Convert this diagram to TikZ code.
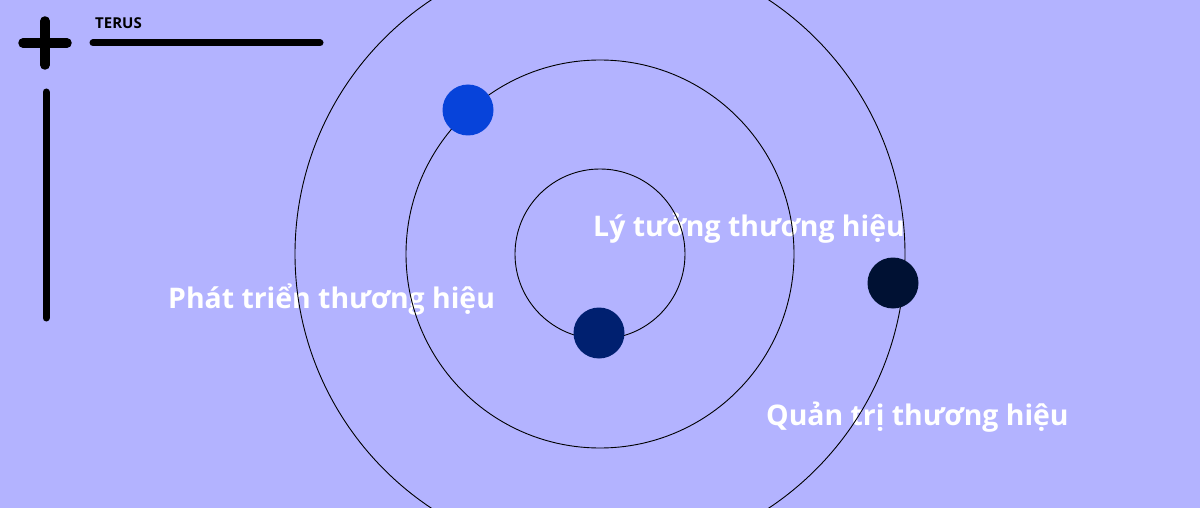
\documentclass[tikz,border=0pt]{standalone}
\usepackage{fontspec}
\setmainfont{Open Sans}
\usetikzlibrary{positioning}

\definecolor{bgviolet}{HTML}{B3B3FF}
\definecolor{dotblue}{HTML}{0743DA}
\definecolor{dotnavy}{HTML}{002070}
\definecolor{dotdark}{HTML}{001133}

\tikzset{
  orbit/.style={draw=black, line width=0.9pt},
  planet/.style={circle, fill=#1, minimum size=51pt, inner sep=0pt},
  stage/.style={text=white, font=\fontsize{28.4}{32}\selectfont\bfseries, inner sep=0pt, anchor=base west},
  logobar/.style={line width=7pt, line cap=round, black}
}

\begin{document}
\begin{tikzpicture}[x=1pt, y=-1pt]
  % canvas, pixel units from the top left
  \fill[bgviolet] (0,0) rectangle (1200,508);
  \useasboundingbox (0,0) rectangle (1200,508);

  % logo: plus, bars and name
  \coordinate (plus_c) at (45,43);
  \draw[logobar, line width=9.5pt] ([xshift=-22pt]plus_c) -- ([xshift=22pt]plus_c);
  \draw[logobar, line width=9.5pt] ([yshift=22pt]plus_c) -- ([yshift=-22pt]plus_c);
  \coordinate (bar_h1) at (93,43);
  \coordinate (bar_h2) at (320,43);
  \draw[logobar] (bar_h1) -- (bar_h2);
  \coordinate (bar_v1) at (46,92);
  \coordinate (bar_v2) at (46,318);
  \draw[logobar] (bar_v1) -- (bar_v2);
  \node[anchor=base west, inner sep=0pt, font=\fontsize{15}{16}\selectfont\bfseries] (brand) at (95,28.5) {TERUS};

  % stage labels
  \node[stage] (ideal) at (593,236) {Lý tưởng thương hiệu};
  \node[stage] (develop) at (168,308) {Phát triển thương hiệu};
  \node[stage] (manage) at (766,425) {Quản trị thương hiệu};

  % orbits, drawn over the labels
  \coordinate (core) at (600,254);
  \draw[orbit] (core) circle[radius=85];
  \draw[orbit] (core) circle[radius=194];
  \draw[orbit] (core) circle[radius=305];

  % planets on the orbits
  \node[planet=dotblue] (p_blue) at (468,110) {};
  \node[planet=dotnavy] (p_navy) at (599,333) {};
  \node[planet=dotdark] (p_dark) at (893,283) {};
\end{tikzpicture}
\end{document}
